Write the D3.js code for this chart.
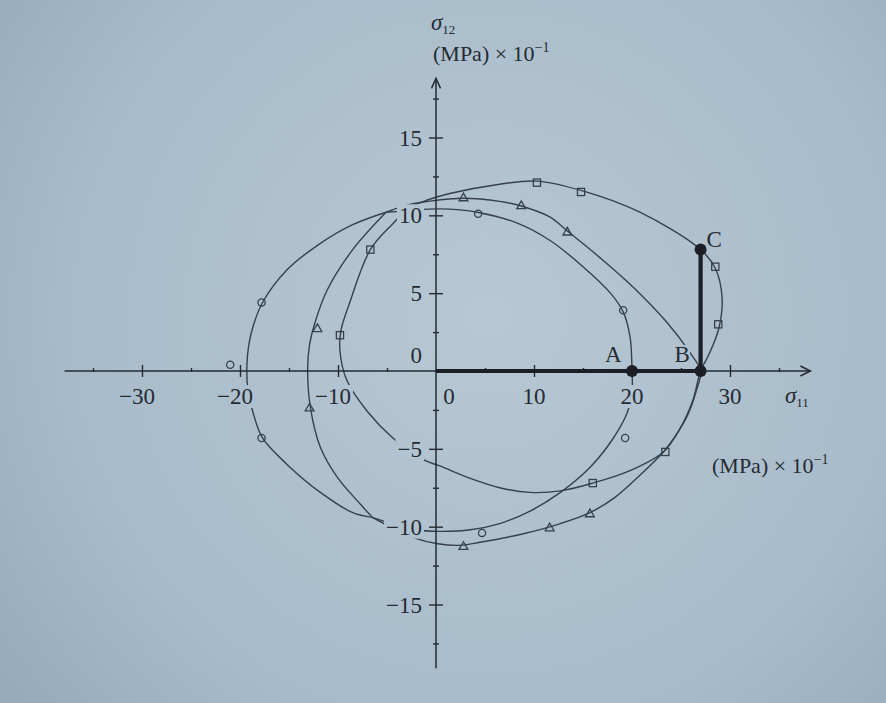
<!DOCTYPE html>
<html><head><meta charset="utf-8">
<script src="https://cdn.jsdelivr.net/npm/d3@7"></script>
<style>html,body{margin:0;padding:0;background:#aabdcb;} svg{display:block;}</style>
</head><body>
<svg id="c" width="886" height="703"></svg>
<script>
// ---------- data (σ11, σ12 in MPa × 10^-1) ----------
const xTicks = [-30, -20, -10, 0, 10, 20, 30];
const xMinor = [-35, -25, -15, -5, 5, 15, 25, 35];
const yTicks = [-15, -10, -5, 0, 5, 10, 15];
const yMinor = [-17.5, -12.5, -7.5, -2.5, 2.5, 7.5, 12.5, 17.5];
const loadPath = [[0, 0], [20, 0], [27, 0], [27, 7.8]];
const loadPoints = [{name: "A", x: 20, y: 0}, {name: "B", x: 27, y: 0}, {name: "C", x: 27, y: 7.8}];

// surface after OA (circles)
const circleRight = [[-5.1,10.2],[-2.7,10.3],[-0.8,10.4],[1.4,10.4],[4.2,10.2],[8.3,9.5],[11.6,8.4],[15.0,6.7],[17.8,5.0],[19.1,3.8],[19.8,2.2],[20,0],[20.0,-1.5],[19.5,-2.7],[18.0,-4.4],[15.7,-6.2],[12.7,-7.8],[9.6,-9.0],[6.5,-9.8],[3.5,-10.2],[0.4,-10.3],[-2.1,-10.2],[-4.5,-9.8],[-6.5,-9.4]];
const circleLeft = [[-6.5,-9.4],[-8.5,-9.1],[-11.8,-7.8],[-15.2,-6.0],[-17.7,-4.3],[-18.7,-2.6],[-19.2,-1.2],[-19.3,0.3],[-19.1,1.7],[-18.6,3.0],[-17.7,4.4],[-15.2,6.5],[-11.8,8.2],[-8.5,9.4],[-5.1,10.2]];
// surface after AB (triangles)
const triRight = [[-5.1,10.2],[-2.7,10.7],[-0.8,10.9],[2.8,11.1],[6.5,10.9],[8.7,10.6],[11.6,9.9],[13.4,9.0],[16.7,7.3],[20.1,5.4],[23.6,3.1],[25.9,1.2],[27,0],[26.6,-1.2],[25.7,-2.8],[24.4,-4.2],[23.2,-5.2],[20.8,-6.7],[18.3,-8.1],[15.7,-9.1],[12.7,-9.8],[8.6,-10.5],[4.5,-11.0],[2.4,-11.2],[0.2,-11.1],[-2.3,-10.7],[-4.7,-10.0],[-6.5,-9.4]];
const triLeft = [[-6.5,-9.4],[-7.8,-8.5],[-10.1,-6.8],[-11.8,-4.9],[-12.8,-2.4],[-13.1,0.1],[-12.9,1.7],[-12.4,3.0],[-11.1,5.2],[-8.5,7.8],[-5.1,10.2]];
// surface after BC (squares)
const squareLoop = [[-4.4,-4.3],[-7.0,-2.6],[-9.1,-0.6],[-9.8,1.3],[-9.7,2.6],[-8.8,4.4],[-6.7,7.8],[-4.5,9.4],[-2.7,10.5],[-0.8,11.0],[1.4,11.4],[6.5,12.0],[10.3,12.2],[14.8,11.6],[20.8,10.2],[27,7.8],[28.5,6.6],[29.2,4.6],[28.8,2.6],[27.8,1.0],[27,0],[26.2,-1.9],[24.9,-3.7],[23.2,-5.2],[19.8,-6.4],[16.0,-7.2],[12.7,-7.7],[9.6,-7.8],[6.5,-7.5],[3.5,-6.9],[0.4,-6.1],[-1.3,-5.7]];

const circleMarks = [[4.3,10.1],[19.1,3.9],[19.3,-4.3],[-17.8,4.4],[-17.8,-4.3],[-21.0,0.4],[4.7,-10.4]];
const triMarks = [[2.8,11.1],[8.7,10.6],[13.4,8.9],[15.7,-9.2],[11.6,-10.1],[2.8,-11.3],[-12.1,2.7],[-12.9,-2.4]];
const squareMarks = [[10.3,12.1],[14.8,11.5],[28.5,6.7],[28.8,3.0],[23.4,-5.2],[16.0,-7.2],[-6.7,7.8],[-9.8,2.3]];

// ---------- drawing ----------
const svg = d3.select("#c");
const W = 886, H = 703;
const INK = "#252b32", LINE = "#37414b";
const FONT = "'Liberation Serif', 'DejaVu Serif', serif";

const defs = svg.append("defs");
const rg = defs.append("radialGradient").attr("id", "bg").attr("gradientUnits", "userSpaceOnUse")
  .attr("cx", 487).attr("cy", 316).attr("r", 640);
rg.append("stop").attr("offset", "0%").attr("stop-color", "#b7c8d4");
rg.append("stop").attr("offset", "65%").attr("stop-color", "#a8bbca");
rg.append("stop").attr("offset", "100%").attr("stop-color", "#93a8b8");
svg.append("rect").attr("width", W).attr("height", H).attr("fill", "url(#bg)");

const x = d3.scaleLinear().domain([-30, 30]).range([142, 730]);
const y = d3.scaleLinear().domain([-15, 15]).range([604.5, 137.5]);
const X0 = x(0), Y0 = y(0);

const openLine = d3.line().x(d => x(d[0])).y(d => y(d[1])).curve(d3.curveCatmullRom.alpha(0.5));
const closedLine = d3.line().x(d => x(d[0])).y(d => y(d[1])).curve(d3.curveCatmullRomClosed.alpha(0.5));

const curves = svg.append("g").attr("fill", "none").attr("stroke", LINE).attr("stroke-width", 1.4);
[circleRight, circleLeft, triRight, triLeft].forEach(c => curves.append("path").attr("d", openLine(c)));
curves.append("path").attr("d", closedLine(squareLoop));

// markers
const mk = svg.append("g").attr("fill", "none").attr("stroke", LINE).attr("stroke-width", 1.3);
mk.selectAll("circle.m").data(circleMarks).join("circle").attr("class", "m")
  .attr("cx", d => x(d[0])).attr("cy", d => y(d[1])).attr("r", 3.6);
mk.selectAll("rect.m").data(squareMarks).join("rect").attr("class", "m")
  .attr("x", d => x(d[0]) - 3.6).attr("y", d => y(d[1]) - 3.6).attr("width", 7.2).attr("height", 7.2);
const tri = d3.symbol().type(d3.symbolTriangle).size(34);
mk.selectAll("path.m").data(triMarks).join("path").attr("class", "m")
  .attr("transform", d => `translate(${x(d[0])},${y(d[1])})`).attr("d", tri);

// axes
const ax = svg.append("g").attr("stroke", INK).attr("stroke-width", 1.5).attr("fill", "none");
const xL = x(-37.9), xR = x(38.2), yT = y(18.8), yB = y(-19.1);
ax.append("line").attr("x1", xL).attr("x2", xR).attr("y1", Y0).attr("y2", Y0);
ax.append("line").attr("x1", X0).attr("x2", X0).attr("y1", yB).attr("y2", yT);
ax.append("path").attr("d", `M${xR - 10},${Y0 - 5}L${xR},${Y0}L${xR - 10},${Y0 + 5}`);
ax.append("path").attr("d", `M${X0 - 4.5},${yT + 10}L${X0},${yT}L${X0 + 4.5},${yT + 10}`);

function tickAxis(gen, tf, size) {
  const g = svg.append("g").attr("transform", tf).call(gen.tickSize(size).tickFormat(""));
  g.select(".domain").remove();
  g.selectAll(".tick line").attr("stroke", INK).attr("stroke-width", 1.4);
  return g;
}
tickAxis(d3.axisBottom(x).tickValues(xTicks.filter(v => v !== 0)), `translate(0,${Y0 - 6})`, 12);
tickAxis(d3.axisBottom(x).tickValues(xMinor), `translate(0,${Y0 - 3})`, 4);
tickAxis(d3.axisRight(y).tickValues(yTicks.filter(v => v !== 0)), `translate(${X0 - 7},0)`, 14);
tickAxis(d3.axisRight(y).tickValues(yMinor), `translate(${X0 - 3},0)`, 6);

// loading path O-A-B-C
svg.append("path").attr("d", d3.line().x(d => x(d[0])).y(d => y(d[1]))(loadPath))
  .attr("fill", "none").attr("stroke", "#1c2026").attr("stroke-width", 4.2).attr("stroke-linejoin", "miter");
svg.append("g").selectAll("circle").data(loadPoints).join("circle")
  .attr("cx", d => x(d.x)).attr("cy", d => y(d.y)).attr("r", 6).attr("fill", "#1c2026");

// text with knockout box (as in the printed figure)
const labelLayer = svg.append("g");
function txt(t, px, py, anchor, size, pad) {
  const g = labelLayer.append("g");
  const e = g.append("text").attr("x", px).attr("y", py).attr("text-anchor", anchor || "start")
    .attr("font-family", FONT).attr("font-size", size || 23).attr("fill", INK).text(t);
  const b = e.node().getBBox();
  const p = pad == null ? 2 : pad;
  g.insert("rect", "text").attr("x", b.x - p).attr("y", b.y + 3 - p)
    .attr("width", b.width + 2 * p).attr("height", b.height - 6 + 2 * p).attr("fill", "url(#bg)");
  return e;
}
// x tick labels
xTicks.forEach(v => {
  if (v === 0) { txt("0", X0 + 13, Y0 + 33, "middle"); return; }
  if (v < 0) txt("\u2212" + Math.abs(v), x(v) + 13, Y0 + 33, "end");
  else txt(String(v), x(v), Y0 + 33, "middle");
});
// y tick labels
yTicks.forEach(v => {
  if (v === 0) { txt("0", X0 - 14, Y0 - 8, "end"); return; }
  txt(v < 0 ? "\u2212" + Math.abs(v) : String(v), X0 - 14, y(v) + 8, "end");
});
// point labels
loadPoints.forEach(p => {
  const off = {A: [-27, -9], B: [-26, -9], C: [6, -3]}[p.name];
  txt(p.name, x(p.x) + off[0], y(p.y) + off[1], "start", 23, 0);
});

// axis titles
function sigma(px, py, sub) {
  const t = svg.append("text").attr("x", px).attr("y", py).attr("font-family", FONT).attr("fill", INK);
  t.append("tspan").attr("font-size", 23).attr("font-style", "italic").text("\u03c3");
  t.append("tspan").attr("font-size", 13).attr("dy", 4).text(sub);
}
function unit(px, py) {
  const t = svg.append("text").attr("x", px).attr("y", py).attr("font-family", FONT).attr("fill", INK).attr("font-size", 22);
  t.append("tspan").text("(MPa) \u00d7 10");
  t.append("tspan").attr("font-size", 14).attr("dy", -9).text("\u22121");
}
sigma(431, 30, "12");
unit(433, 61);
sigma(785, 403, "11");
unit(712, 473);
</script>
</body></html>
